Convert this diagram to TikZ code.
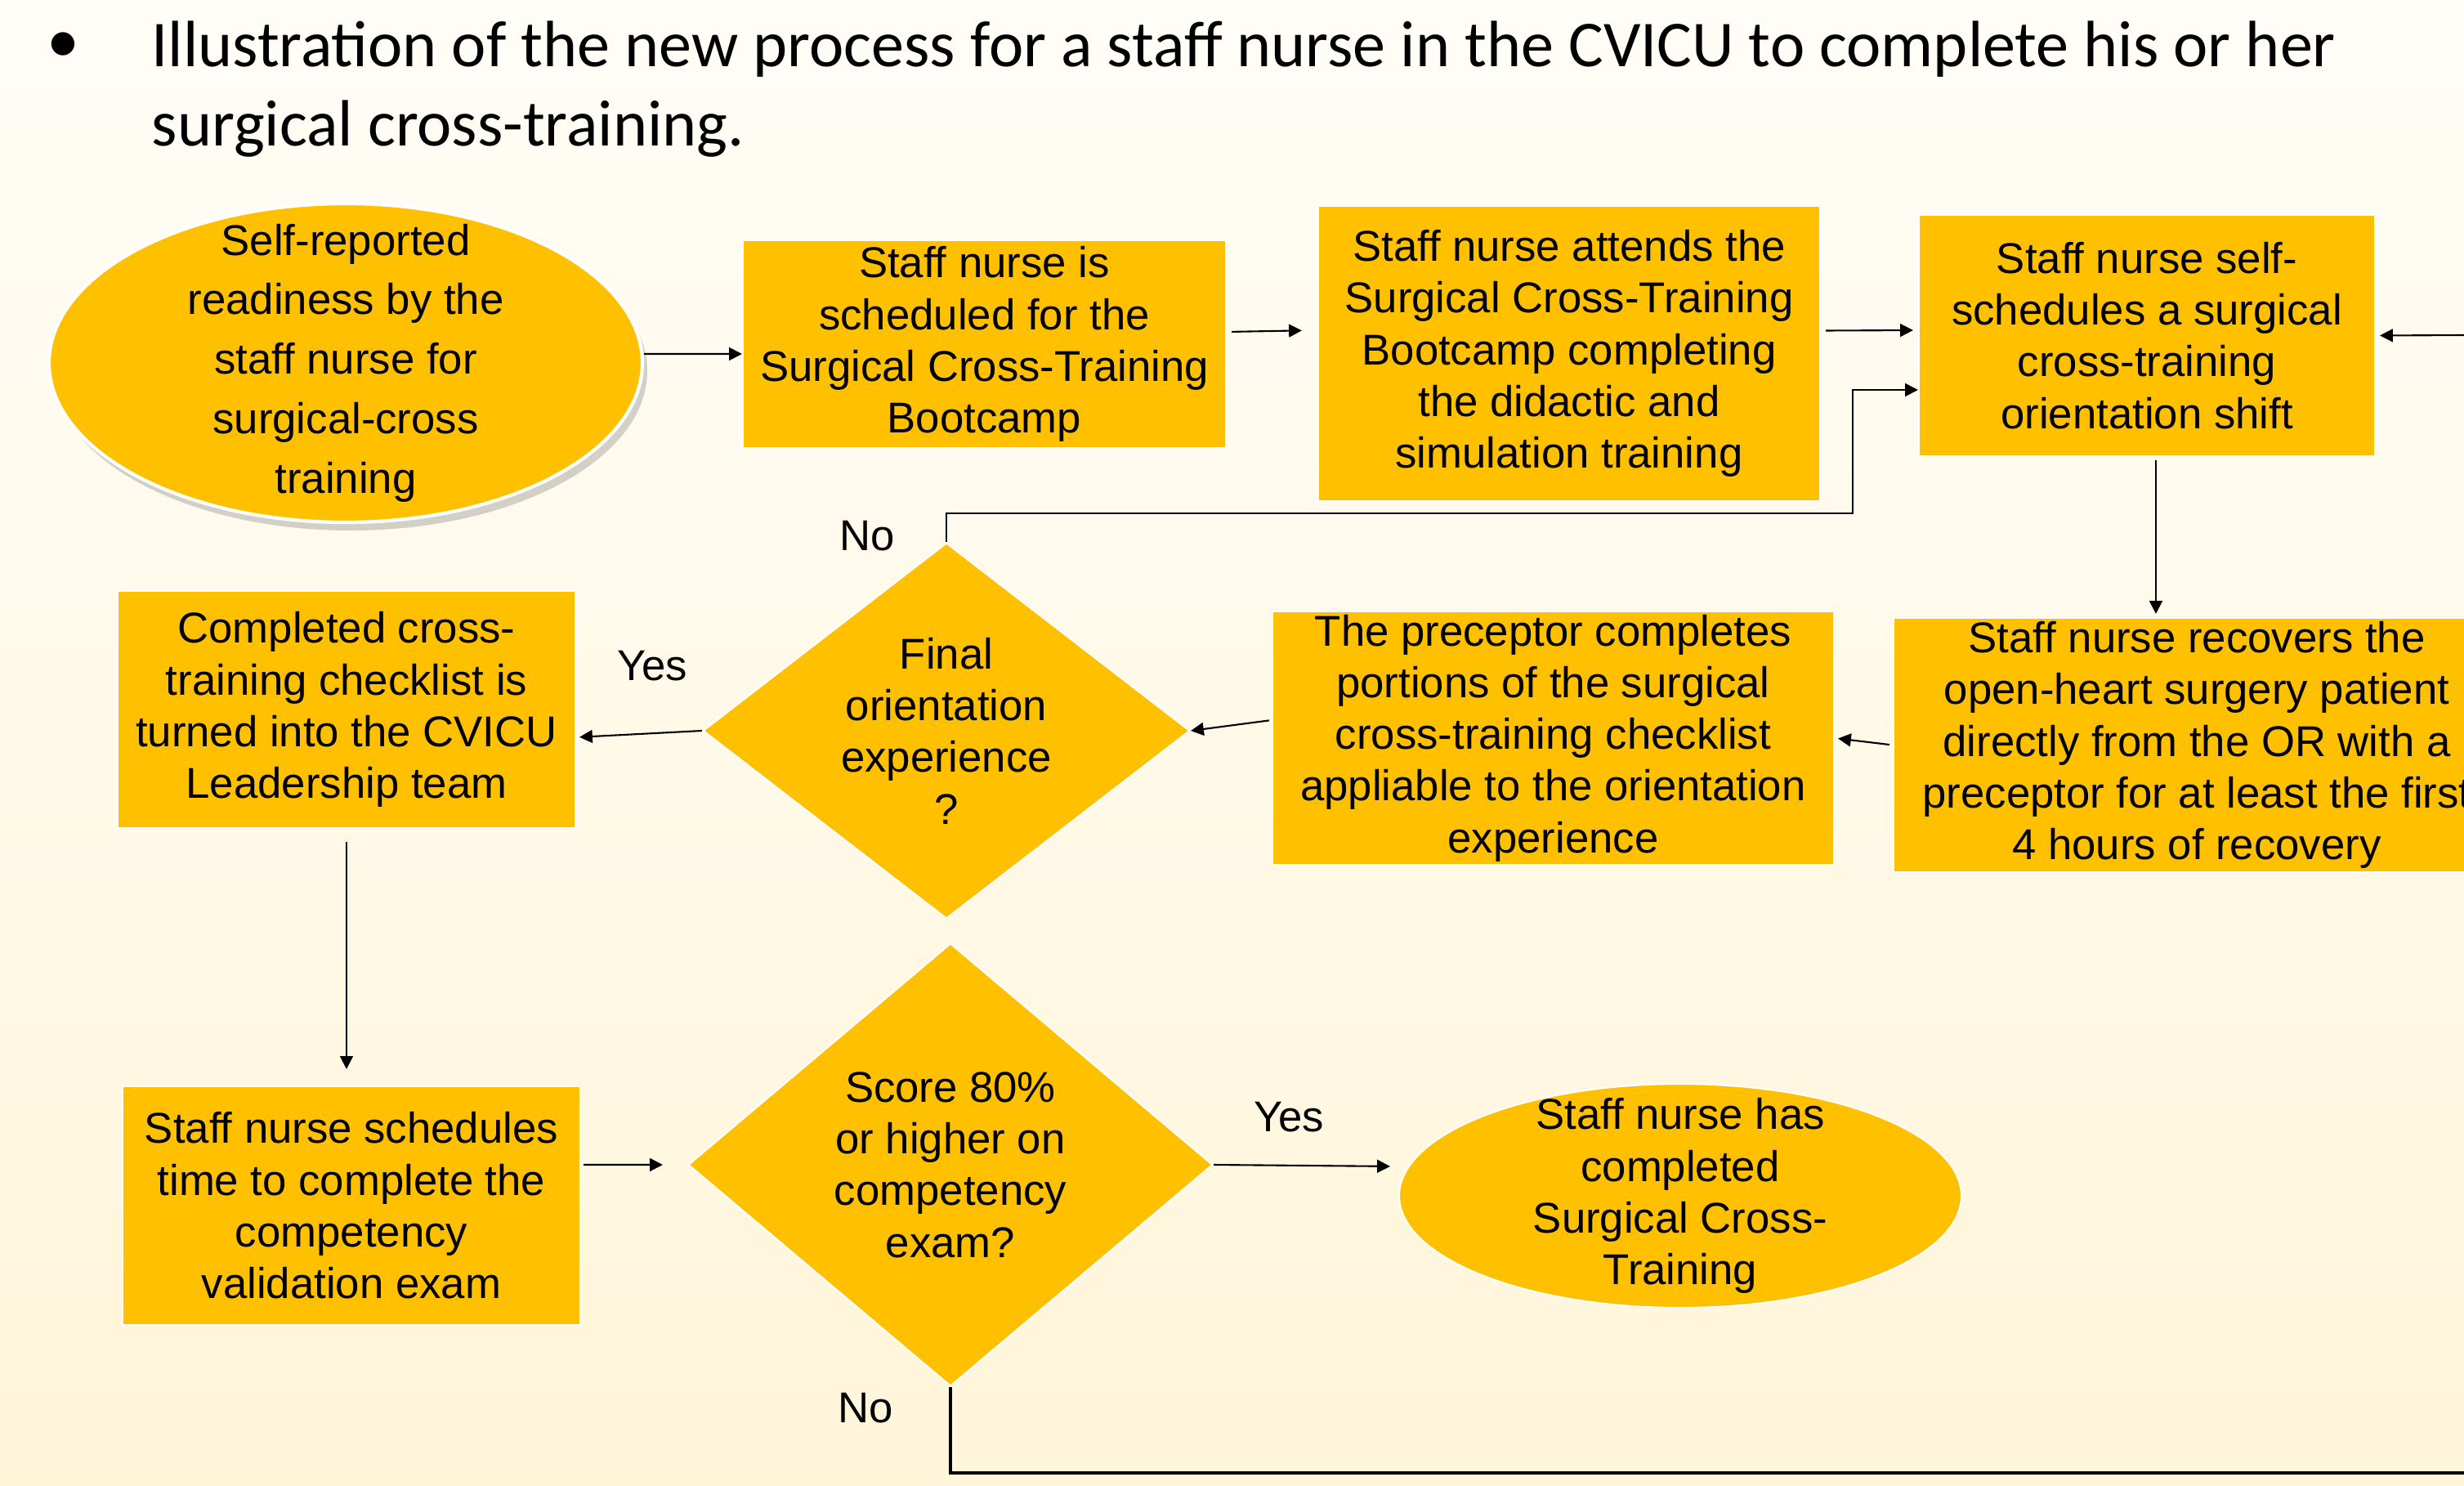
\documentclass[tikz,border=0pt]{standalone}
\usepackage{fontspec}
\setmainfont{Liberation Sans}
\newfontfamily\titlefont{Carlito}
\usetikzlibrary{shapes.geometric,arrows.meta,shadows}
\definecolor{boxfill}{HTML}{FFC000}
\definecolor{bgtop}{HTML}{FFFDF7}
\definecolor{bgbottom}{HTML}{FFF5D9}

\begin{document}
\begin{tikzpicture}[> = {Triangle[length=4.5pt,width=4.5pt]},
  every node/.style={font=\fontsize{15}{18}\selectfont, inner sep=0pt, align=center},
  stepbox/.style={rectangle, draw=white, line width=0.6pt, fill=boxfill},
  endpoint/.style={ellipse, draw=white, line width=0.6pt, fill=boxfill},
  decision/.style={diamond, draw=white, line width=0.6pt, fill=boxfill},
  flow/.style={->, line width=0.6pt}]
\useasboundingbox (0,0) rectangle (30.15,-18.18);
\clip (0,0) rectangle (30.15,-18.18);
\shade[top color=bgtop, bottom color=bgbottom] (0,0) rectangle (30.15,-18.18);

\node (bullet) at (0.77,-0.58) {\titlefont\fontsize{22.8}{27.5}\selectfont •};
\node (title) [anchor=base west, align=left, font=\titlefont\fontsize{22.8}{27.5}\selectfont] at (1.85,-1.78)
  {Illustration of the new process for a staff nurse in the CVICU to complete his or her\\surgical cross-training.};

\node (ready) [endpoint, line width=1.2pt, minimum width=7.26cm, minimum height=3.9cm, inner ysep=-3.5mm,
  font=\fontsize{15}{20.7}\selectfont, drop shadow={opacity=0.35, shadow xshift=0.6mm, shadow yshift=-1mm}] at (4.23,-4.44)
  {Self-reported\\readiness by the\\staff nurse for\\surgical-cross\\training};
\node (sched) [stepbox, minimum width=5.91cm, minimum height=2.54cm] at (12.045,-4.21)
  {Staff nurse is\\scheduled for the\\Surgical Cross-Training\\Bootcamp};
\node (camp) [stepbox, minimum width=6.14cm, minimum height=3.61cm] at (19.2,-4.325)
  {Staff nurse attends the\\Surgical Cross-Training\\Bootcamp completing\\the didactic and\\simulation training};
\node (shift) [stepbox, minimum width=5.58cm, minimum height=2.95cm] at (26.27,-4.105)
  {Staff nurse self-\\schedules a surgical\\cross-training\\orientation shift};
\node (recover) [stepbox, minimum width=7.42cm, minimum height=3.11cm] at (26.88,-9.115)
  {Staff nurse recovers the\\open-heart surgery patient\\directly from the OR with a\\preceptor for at least the first\\4 hours of recovery};
\node (precept) [stepbox, minimum width=6.87cm, minimum height=3.1cm] at (19.005,-9.03)
  {The preceptor completes\\portions of the surgical\\cross-training checklist\\appliable to the orientation\\experience};
\node (final) [decision, aspect=1.296, minimum width=5.96cm, minimum height=4.6cm] at (11.58,-8.94)
  {Final\\orientation\\experience\\?};
\node (handin) [stepbox, minimum width=5.6cm, minimum height=2.9cm] at (4.24,-8.68)
  {Completed cross-\\training checklist is\\turned into the CVICU\\Leadership team};
\node (exam) [stepbox, minimum width=5.6cm, minimum height=2.92cm] at (4.3,-14.75)
  {Staff nurse schedules\\time to complete the\\competency\\validation exam};
\node (score) [decision, aspect=1.185, minimum width=6.42cm, minimum height=5.42cm] at (11.63,-14.25)
  {Score 80\%\\or higher on\\competency\\exam?};
\node (done) [endpoint, minimum width=6.88cm, minimum height=2.74cm, inner ysep=-2.5mm] at (20.56,-14.63)
  {Staff nurse has\\completed\\Surgical Cross-\\Training};

\node (no1) at (10.61,-6.56) {No};
\node (yes1) at (7.98,-8.15) {Yes};
\node (yes2) at (15.77,-13.67) {Yes};
\node (no2) at (10.59,-17.23) {No};

\coordinate (offright) at (30.15,-4.1);
\coordinate (noturn) at (22.67,-6.28);
\coordinate (offbottom) at (30.15,-18.02);

\draw[flow] ([yshift=1.1mm]ready.east) -- ([yshift=-1.2mm]sched.west);
\draw[flow, shorten <=0.6mm, shorten >=1.9mm] ([yshift=1.5mm]sched.east) -- ([yshift=2.85mm]camp.west);
\draw[flow, shorten <=0.6mm, shorten >=0.6mm] ([yshift=2.8mm]camp.east) -- ([yshift=0.65mm]shift.west);
\draw[flow, shorten >=0.5mm] (offright) -- (shift.east);
\draw[flow, shorten <=0.4mm, shorten >=0.4mm] ([xshift=1.1mm]shift.south) -- ([xshift=1.1mm]shift.south |- recover.north);
\draw[flow, shorten <=0.4mm, shorten >=0.4mm] (recover.west) -- (precept.east);
\draw[flow, shorten <=0.3mm] ([yshift=2.2mm]precept.west) -- (final.east);
\draw[flow, shorten >=0.4mm] (final.west) -- ([yshift=-3.4mm]handin.east);
\draw[flow] (final.north) |- (noturn) |- ([yshift=-6.65mm]shift.west);
\draw[flow, shorten <=1.6mm, shorten >=2mm] (handin.south) -- (handin.south |- exam.north);
\draw[flow, shorten <=0.3mm, shorten >=3mm] ([yshift=5mm]exam.east) -- (score.west);
\draw[flow, shorten >=1mm] (score.east) -- ([yshift=3.6mm]done.west);
\draw[line width=0.9pt] (score.south) |- (offbottom);
\end{tikzpicture}
\end{document}
